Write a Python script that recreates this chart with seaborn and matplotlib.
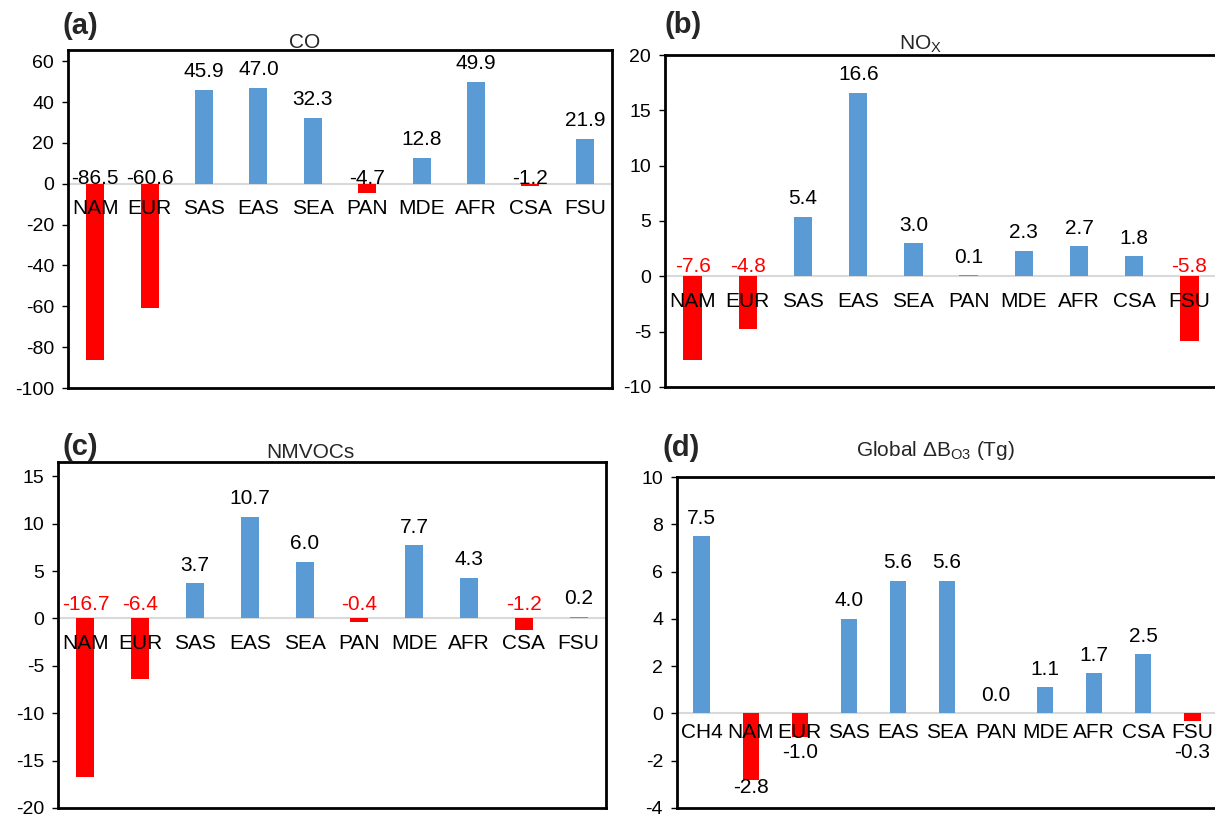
import matplotlib
matplotlib.use("Agg")
import matplotlib.pyplot as plt
import seaborn as sns
import pandas as pd

# data
regions = ['NAM', 'EUR', 'SAS', 'EAS', 'SEA', 'PAN', 'MDE', 'AFR', 'CSA', 'FSU']
co_vals = [-86.5, -60.6, 45.9, 47.0, 32.3, -4.7, 12.8, 49.9, -1.2, 21.9]
nox_vals = [-7.6, -4.8, 5.4, 16.6, 3.0, 0.1, 2.3, 2.7, 1.8, -5.8]
nmvoc_vals = [-16.7, -6.4, 3.7, 10.7, 6.0, -0.4, 7.7, 4.3, -1.2, 0.2]
o3_cats = ['CH4'] + regions
o3_vals = [7.5, -2.8, -1.0, 4.0, 5.6, 5.6, 0.0, 1.1, 1.7, 2.5, -0.3]

BLUE = '#5B9BD5'
RED = '#FF0000'
W, H = 1215, 818
FS = 15

sns.set_theme(style='white')
plt.rcParams['font.family'] = ['Liberation Sans', 'DejaVu Sans']
plt.rcParams['mathtext.default'] = 'regular'

fig = plt.figure(figsize=(W / 100, H / 100), dpi=100)


def px_axes(left, top, right, bottom):
    return fig.add_axes([left / W, 1 - bottom / H, (right - left) / W, (bottom - top) / H])


def panel(ax, cats, vals, ylim, yticks, neg_color, neg_mode, neg_off, cat_off=18):
    df = pd.DataFrame({'cat': cats, 'val': vals})
    pal = {c: (BLUE if v >= 0 else RED) for c, v in zip(cats, vals)}
    sns.barplot(data=df, x='cat', y='val', hue='cat', palette=pal, legend=False,
                width=0.33, saturation=1, linewidth=0, ax=ax, zorder=2)
    ax.axhline(0, color='#D9D9D9', lw=1.5, zorder=1)
    ax.set_xlim(-0.5, len(cats) - 0.5)
    ax.set_ylim(*ylim)
    ax.set_yticks(yticks)
    ax.set_yticklabels([str(t) for t in yticks], fontsize=FS - 1)
    ax.set_xticks([])
    ax.set_xlabel('')
    ax.set_ylabel('')
    for s in ax.spines.values():
        s.set_visible(True)
        s.set_color('black')
        s.set_linewidth(2)
    ax.tick_params(axis='y', direction='out', length=4, width=1, pad=6, colors='black', left=True)

    # points per data unit, to keep labels below bars clear of the category names
    h_pt = ax.get_position().height * H * 0.72
    pt_per_unit = h_pt / (ylim[1] - ylim[0])

    for i, (c, v) in enumerate(zip(cats, vals)):
        ax.annotate(c, (i, 0), xytext=(0, -cat_off), textcoords='offset points',
                    ha='center', va='center', fontsize=FS, color='black', zorder=3)
        lab = f'{v:.1f}'
        if v >= 0:
            ax.annotate(lab, (i, v), xytext=(0, 13), textcoords='offset points',
                        ha='center', va='center', fontsize=FS, color='black')
        elif neg_mode == 'top':
            ax.annotate(lab, (i, 0), xytext=(0, neg_off), textcoords='offset points',
                        ha='center', va='center', fontsize=FS, color=neg_color)
        else:
            off = min(v * pt_per_unit - neg_off, -28)
            ax.annotate(lab, (i, 0), xytext=(0, off), textcoords='offset points',
                        ha='center', va='center', fontsize=FS, color=neg_color)


ax_a = px_axes(68, 50, 612, 388)
panel(ax_a, regions, co_vals, (-100, 65.5), list(range(-100, 61, 20)), 'black', 'top', 4)

ax_b = px_axes(665, 55, 1217, 387)
panel(ax_b, regions, nox_vals, (-10, 20), list(range(-10, 21, 5)), RED, 'top', 7)

ax_c = px_axes(58, 462, 606, 808)
panel(ax_c, regions, nmvoc_vals, (-20, 16.5), list(range(-20, 16, 5)), RED, 'top', 10)

ax_d = px_axes(677, 477, 1217, 808)
panel(ax_d, o3_cats, o3_vals, (-4, 10), list(range(-4, 11, 2)), 'black', 'below', 6, cat_off=14)

# panel titles and letters
titles = [('CO', 305, 42), ('NO$_{X}$', 920, 44), ('NMVOCs', 310, 452),
          ('Global ΔB$_{O3}$ (Tg)', 935, 450)]
for t, x, y in titles:
    fig.text(x / W, 1 - y / H, t, ha='center', va='center', fontsize=15)

letters = [('(a)', 62, 26), ('(b)', 664, 25), ('(c)', 62, 447), ('(d)', 662, 448)]
for t, x, y in letters:
    fig.text(x / W, 1 - y / H, t, ha='left', va='center', fontsize=21, fontweight='bold')

fig.savefig('out.png', dpi=100, facecolor='white')
